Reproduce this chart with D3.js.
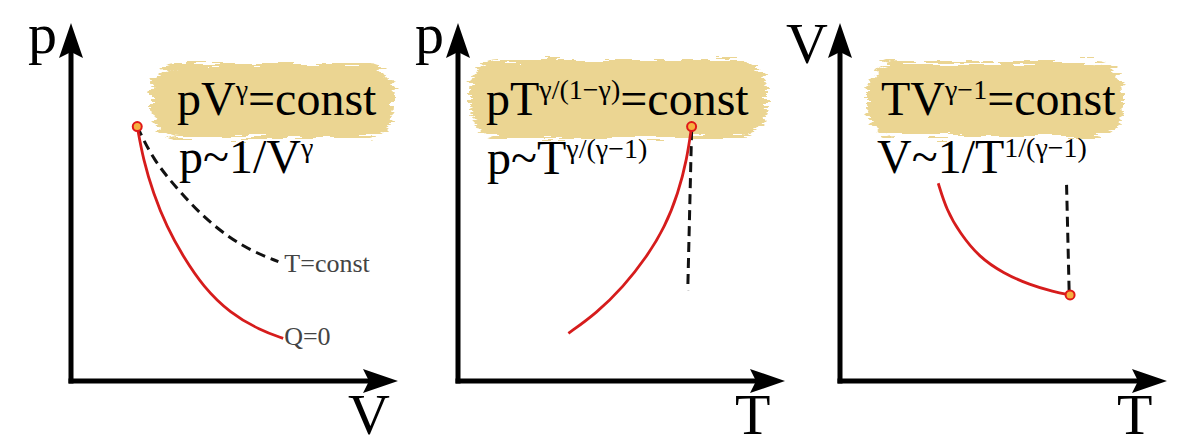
<!DOCTYPE html>
<html>
<head>
<meta charset="utf-8">
<script src="https://cdn.jsdelivr.net/npm/d3@7"></script>
<style>
  html, body { margin: 0; padding: 0; background: #fff; }
  svg { display: block; }
</style>
</head>
<body>
<div id="chart"></div>
<script>
// values, in panel units (0..100 on both axes)
var xLabels = ["V", "T", "T"];
var yLabels = ["p", "p", "V"];

// adiabat (red, Q=0) per panel
var adiabatPV = [[20.7,79.5],[22.6,69.1],[25.7,58.7],[29.9,48.2],[35.1,38.8],[41.3,29.5],[49.7,21.2],[59.1,15.9],[66.3,13.3]];
var adiabatPT = [[73.0,79.5],[71.5,69.1],[68.8,58.7],[64.7,48.2],[59.0,38.8],[51.7,29.5],[43.3,21.2],[34.5,14.9]];
var adiabatVT = [[30.7,61.8],[33.3,53.4],[37.5,46.2],[43.4,38.8],[51.0,33.7],[59.4,30.0],[66.7,27.9],[71.9,26.9]];

// isotherm (dashed, T=const) per panel
var isothermPV = [[20.7,79.5],[25.7,69.1],[33.5,59.7],[41.3,51.3],[49.7,44.6],[57.0,40.4],[64.8,37.3]];
var isothermPT = [[73.0,78.4],[71.8,28.4]];
var isothermVT = [[70.8,61.3],[71.6,28.4]];

// the marked start state
var startStates = [[20.7,79.5],[73.0,79.5],[71.9,26.9]];

// formulas: [text, isSuperscript]
var lawText = [
  [["pV",0],["γ",1],["=const",0]],
  [["pT",0],["γ/(1−γ)",1],["=const",0]],
  [["TV",0],["γ−1",1],["=const",0]]
];
var propText = [
  [["p~1/V",0],["γ",1]],
  [["p~T",0],["γ/(γ−1)",1]],
  [["V~1/T",0],["1/(γ−1)",1]]
];
var curveLabels = ["T=const", "Q=0"];

var width = 1200, height = 448;
var serif = "'Liberation Serif', 'Times New Roman', Times, serif";
var originX = [71, 458, 840], originY = 381;
var lawPos = [[177,115],[486,115],[881,115]];
var propPos = [[179,173],[487,174],[877,173]];
var yLabelPos = [[28,53],[415,53],[786,63]];
var brush = [
  {x:151, y:64, w:243, h:74},
  {x:470, y:60, w:297, h:78},
  {x:867, y:62, w:256, h:74}
];

var svg = d3.select("#chart").append("svg")
    .attr("width", width).attr("height", height);

// rough brush stroke filter for the yellow highlights
var defs = svg.append("defs");
var f = defs.append("filter").attr("id", "rough")
    .attr("color-interpolation-filters", "sRGB")
    .attr("x", "-10%").attr("y", "-25%").attr("width", "120%").attr("height", "150%");
f.append("feTurbulence").attr("type", "fractalNoise")
    .attr("baseFrequency", "0.03 0.3").attr("numOctaves", 3).attr("seed", 4).attr("result", "noise");
f.append("feDisplacementMap").attr("in", "SourceGraphic").attr("in2", "noise")
    .attr("scale", 16).attr("xChannelSelector", "R").attr("yChannelSelector", "G");

var smooth = d3.line().curve(d3.curveBasis);

var adiabats = [adiabatPV, adiabatPT, adiabatVT];
var isotherms = [isothermPV, isothermPT, isothermVT];

function addText(sel, parts, size, supSize, shift) {
  parts.forEach(function(p, i) {
    var t = sel.append("tspan").text(p[0]);
    if (p[1]) {
      t.attr("font-size", supSize).attr("dy", -shift);
    } else {
      t.attr("font-size", size);
      if (i > 0 && parts[i-1][1]) t.attr("dy", shift);
    }
  });
}

d3.range(3).forEach(function(i) {
  var ox = originX[i];
  var x = d3.scaleLinear().domain([0, 100]).range([ox, ox + 320]);
  var y = d3.scaleLinear().domain([0, 100]).range([originY, 61]);
  var g = svg.append("g").attr("font-family", serif);

  // highlight
  var b = brush[i];
  g.append("rect")
      .attr("x", b.x).attr("y", b.y).attr("width", b.w).attr("height", b.h)
      .attr("rx", 28).attr("ry", 30)
      .attr("fill", "#ebd592")
      .attr("filter", "url(#rough)");

  // axes
  var xTip = ox + 327, yTip = 23;
  g.append("path")
      .attr("d", "M" + ox + "," + (originY + 2.5) + "V" + (yTip + 20) )
      .attr("stroke", "#000").attr("stroke-width", 5).attr("fill", "none");
  g.append("path")
      .attr("d", "M" + (ox - 2.5) + "," + originY + "H" + (xTip - 20))
      .attr("stroke", "#000").attr("stroke-width", 5).attr("fill", "none");
  g.append("path")
      .attr("d", "M" + ox + "," + yTip + "L" + (ox + 12) + "," + (yTip + 35) +
                 "L" + ox + "," + (yTip + 29) + "L" + (ox - 12) + "," + (yTip + 35) + "Z")
      .attr("fill", "#000");
  g.append("path")
      .attr("d", "M" + xTip + "," + originY + "L" + (xTip - 35) + "," + (originY - 12) +
                 "L" + (xTip - 29) + "," + originY + "L" + (xTip - 35) + "," + (originY + 12) + "Z")
      .attr("fill", "#000");

  g.append("text").attr("x", yLabelPos[i][0]).attr("y", yLabelPos[i][1])
      .attr("font-size", 58).text(yLabels[i]);
  g.append("text").attr("x", xTip - 50).attr("y", 434)
      .attr("font-size", 58).text(xLabels[i]);

  // formulas
  addText(g.append("text").attr("x", lawPos[i][0]).attr("y", lawPos[i][1]).attr("fill", "#000"),
          lawText[i], 48, 28, 16);
  addText(g.append("text").attr("x", propPos[i][0]).attr("y", propPos[i][1]).attr("fill", "#000"),
          propText[i], 48, 28, 16);

  // isotherm
  g.append("path")
      .attr("d", smooth(isotherms[i].map(function(d){ return [x(d[0]), y(d[1])]; })))
      .attr("fill", "none").attr("stroke", "#111").attr("stroke-width", 3)
      .attr("stroke-dasharray", "10,6");

  // adiabat
  g.append("path")
      .attr("d", smooth(adiabats[i].map(function(d){ return [x(d[0]), y(d[1])]; })))
      .attr("fill", "none").attr("stroke", "#d61c1c").attr("stroke-width", 2.8);

  g.append("circle")
      .attr("cx", x(startStates[i][0])).attr("cy", y(startStates[i][1]))
      .attr("r", 4.5)
      .attr("fill", "#f6b040").attr("stroke", "#e01818").attr("stroke-width", 2);

  if (i == 0) {
    var endIso = isothermPV[isothermPV.length - 1], endAd = adiabatPV[adiabatPV.length - 1];
    g.append("text").attr("x", x(endIso[0]) + 6).attr("y", y(endIso[1]) + 10)
        .attr("font-size", 26).attr("fill", "#444").text(curveLabels[0]);
    g.append("text").attr("x", x(endAd[0]) + 1).attr("y", y(endAd[1]) + 7)
        .attr("font-size", 26).attr("fill", "#444").text(curveLabels[1]);
  }
});
</script>
</body>
</html>
